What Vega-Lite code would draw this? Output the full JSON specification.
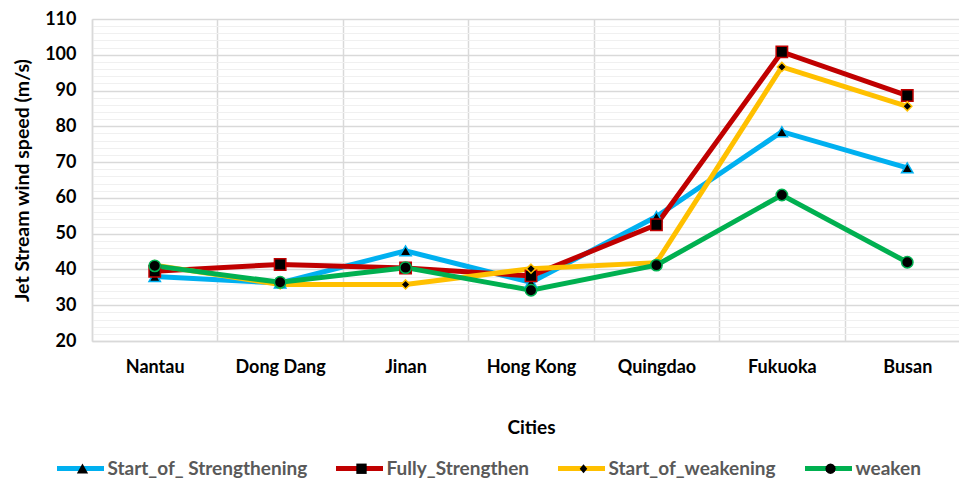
{
  "$schema": "https://vega.github.io/schema/vega-lite/v6.json",
  "autosize": {"type": "none"},
  "padding": {"left": 92, "top": 19, "right": 0, "bottom": 138},
  "width": 878,
  "height": 322,
  "background": "white",
  "config": {"font": "Lato", "view": {"stroke": null}, "legend": {"symbolSize": 2209}},
  "data": {
    "values": [
      {"series": "Start_of_ Strengthening", "city": "Nantau", "speed": 38.0},
      {"series": "Start_of_ Strengthening", "city": "Dong Dang", "speed": 36.2},
      {"series": "Start_of_ Strengthening", "city": "Jinan", "speed": 45.2},
      {"series": "Start_of_ Strengthening", "city": "Hong Kong", "speed": 36.4},
      {"series": "Start_of_ Strengthening", "city": "Quingdao", "speed": 54.8},
      {"series": "Start_of_ Strengthening", "city": "Fukuoka", "speed": 78.5},
      {"series": "Start_of_ Strengthening", "city": "Busan", "speed": 68.4},
      {"series": "Fully_Strengthen", "city": "Nantau", "speed": 39.5},
      {"series": "Fully_Strengthen", "city": "Dong Dang", "speed": 41.4},
      {"series": "Fully_Strengthen", "city": "Jinan", "speed": 40.4},
      {"series": "Fully_Strengthen", "city": "Hong Kong", "speed": 38.2},
      {"series": "Fully_Strengthen", "city": "Quingdao", "speed": 52.5},
      {"series": "Fully_Strengthen", "city": "Fukuoka", "speed": 100.8},
      {"series": "Fully_Strengthen", "city": "Busan", "speed": 88.6},
      {"series": "Start_of_weakening", "city": "Nantau", "speed": 41.2},
      {"series": "Start_of_weakening", "city": "Dong Dang", "speed": 35.8},
      {"series": "Start_of_weakening", "city": "Jinan", "speed": 35.8},
      {"series": "Start_of_weakening", "city": "Hong Kong", "speed": 40.2},
      {"series": "Start_of_weakening", "city": "Quingdao", "speed": 41.9},
      {"series": "Start_of_weakening", "city": "Fukuoka", "speed": 96.6},
      {"series": "Start_of_weakening", "city": "Busan", "speed": 85.6},
      {"series": "weaken", "city": "Nantau", "speed": 41.0},
      {"series": "weaken", "city": "Dong Dang", "speed": 36.4},
      {"series": "weaken", "city": "Jinan", "speed": 40.5},
      {"series": "weaken", "city": "Hong Kong", "speed": 34.2},
      {"series": "weaken", "city": "Quingdao", "speed": 41.2},
      {"series": "weaken", "city": "Fukuoka", "speed": 60.8},
      {"series": "weaken", "city": "Busan", "speed": 42.0}
    ]
  },
  "encoding": {
    "x": {
      "field": "city",
      "type": "nominal",
      "sort": null,
      "scale": {"type": "band", "paddingInner": 0, "paddingOuter": 0},
      "axis": {
        "title": "Cities",
        "titleFontSize": 19,
        "titleFontWeight": "bold",
        "titleColor": "black",
        "titlePadding": 42,
        "labelAngle": 0,
        "labelFontSize": 18,
        "labelFontWeight": "bold",
        "labelColor": "black",
        "labelPadding": 17,
        "ticks": false,
        "tickBand": "extent",
        "grid": true,
        "gridColor": "#d9d9d9",
        "gridWidth": 1.5,
        "domainColor": "#d9d9d9",
        "domainWidth": 1.5
      }
    },
    "y": {
      "field": "speed",
      "type": "quantitative",
      "scale": {"domain": [20, 110], "nice": false, "zero": false},
      "axis": {
        "title": "Jet Stream wind speed (m/s)",
        "titleFontSize": 19.5,
        "titleFontWeight": "bold",
        "titleColor": "black",
        "titlePadding": 12,
        "values": [20, 22, 24, 26, 28, 30, 32, 34, 36, 38, 40, 42, 44, 46, 48, 50, 52, 54, 56, 58, 60, 62, 64, 66, 68, 70, 72, 74, 76, 78, 80, 82, 84, 86, 88, 90, 92, 94, 96, 98, 100, 102, 104, 106, 108, 110],
        "labelExpr": "datum.value % 10 === 0 ? datum.label : ''",
        "labelFontSize": 18,
        "labelFontWeight": "bold",
        "labelColor": "black",
        "labelPadding": 16,
        "labelOverlap": false,
        "ticks": false,
        "grid": true,
        "gridColor": {"condition": {"test": "datum.value % 10 === 0", "value": "#d9d9d9"}, "value": "#f0f0f0"},
        "gridWidth": {"condition": {"test": "datum.value % 10 === 0", "value": 1.5}, "value": 1.2},
        "domainColor": "#d9d9d9",
        "domainWidth": 1.5
      }
    }
  },
  "layer": [
    {
      "mark": {"type": "line", "strokeWidth": 5},
      "encoding": {
        "color": {
          "field": "series",
          "type": "nominal",
          "sort": null,
          "scale": {"range": ["#00b0f0", "#c00000", "#ffc000", "#00b050"]},
          "legend": {
            "title": null,
            "orient": "none",
            "direction": "horizontal",
            "legendX": -37.5,
            "legendY": 423.5,
            "symbolType": "stroke",
            "symbolSize": 2209,
            "symbolStrokeWidth": 5,
            "labelOffset": 1,
            "labelLimit": 0,
            "columnPadding": 18,
            "labelFontSize": 19,
            "labelFontWeight": "bold",
            "labelColor": "#595959"
          }
        }
      }
    },
    {
      "mark": {"type": "point", "filled": true, "fill": "black", "strokeWidth": 1.5, "size": 130, "opacity": 1, "fillOpacity": 1, "strokeOpacity": 1},
      "encoding": {
        "shape": {
          "field": "series",
          "type": "nominal",
          "sort": null,
          "scale": {"range": ["triangle-up", "square", "M0,-0.8L0.8,0L0,0.8L-0.8,0Z", "circle"]},
          "legend": null
        },
        "stroke": {
          "field": "series",
          "type": "nominal",
          "sort": null,
          "scale": {"range": ["#00b0f0", "#c00000", "#ffc000", "#00b050"]},
          "legend": null
        }
      }
    },
    {
      "transform": [{"filter": "datum.speed < 0"}],
      "mark": {"type": "point", "filled": true, "fill": "black", "strokeWidth": 1.5, "opacity": 1, "fillOpacity": 1},
      "encoding": {
        "shape": {
          "field": "series",
          "type": "nominal",
          "scale": {
            "domain": ["Start_of_ Strengthening", "Fully_Strengthen", "Start_of_weakening", "weaken"],
            "range": [
              "M-1,0M1,0M0,-0.22L0.24,0.2L-0.24,0.2Z",
              "M-1,0M1,0M-0.22,-0.22H0.22V0.22H-0.22Z",
              "M-1,0M1,0M0,-0.19L0.16,0L0,0.19L-0.16,0Z",
              "M-1,0M1,0M0.22,0L0.19,0.11L0.11,0.19L0,0.22L-0.11,0.19L-0.19,0.11L-0.22,0L-0.19,-0.11L-0.11,-0.19L0,-0.22L0.11,-0.19L0.19,-0.11Z"
            ]
          },
          "legend": {
            "title": null,
            "orient": "none",
            "direction": "horizontal",
            "legendX": -34,
            "legendY": 425,
            "symbolSize": 2209,
            "symbolStrokeWidth": 1.5,
            "symbolFillColor": "black",
            "labelOffset": 4,
            "labelLimit": 0,
            "columnPadding": 24,
            "labelFontSize": 19,
            "labelFontWeight": "bold",
            "labelOpacity": 0
          }
        }
      }
    }
  ],
  "resolve": {"scale": {"shape": "independent"}}
}
